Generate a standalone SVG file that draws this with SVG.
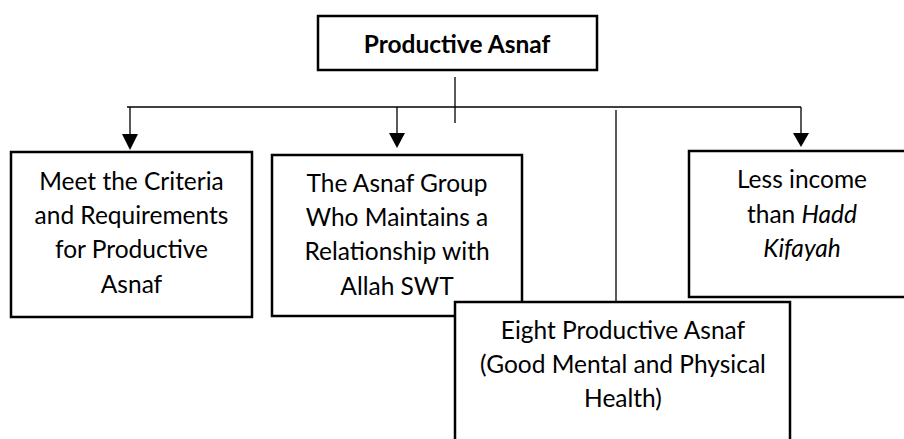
<svg xmlns="http://www.w3.org/2000/svg" width="904" height="439" viewBox="0 0 904 439">
<style>
.box{fill:#fff;stroke:#000;stroke-width:2.5}
.t{font-family:Lato,"Liberation Sans",sans-serif;font-size:24.5px;fill:#000;text-anchor:middle}
.b{font-weight:bold}
.con line{stroke:#000;stroke-width:1.3}
</style>
<rect width="904" height="439" fill="#fff"/>
<g id="top">
<rect class="box" x="318" y="16" width="279" height="54"/>
<text class="t b" x="457" y="53">Productive Asnaf</text>
</g>
<g id="n1">
<rect class="box" x="11" y="152" width="241" height="165"/>
<text class="t" x="131.5" y="190">Meet the Criteria</text>
<text class="t" x="131.5" y="224">and Requirements</text>
<text class="t" x="131.5" y="258">for Productive</text>
<text class="t" x="131.5" y="293">Asnaf</text>
</g>
<g id="n2">
<rect class="box" x="272" y="155" width="250" height="161"/>
<text class="t" x="397" y="192">The Asnaf Group</text>
<text class="t" x="397" y="226">Who Maintains a</text>
<text class="t" x="397" y="260">Relationship with</text>
<text class="t" x="397" y="295">Allah SWT</text>
</g>
<g id="n3">
<rect class="box" x="689" y="151" width="230" height="146"/>
<text class="t" x="802" y="188">Less income</text>
<text class="t" x="802" y="223">than <tspan font-style="italic">Hadd</tspan></text>
<text class="t" x="802" y="257" font-style="italic">Kifayah</text>
</g>
<g class="con" id="connectors">
<line x1="455" y1="77" x2="455" y2="123"/>
<line x1="127" y1="107" x2="801" y2="107"/>
<line x1="130" y1="107" x2="130" y2="136"/>
<path d="M122,134 L138,134 L130,150 Z"/>
<line x1="397" y1="107" x2="397" y2="134"/>
<path d="M389,133 L405,133 L397,148 Z"/>
<line x1="801" y1="107" x2="801" y2="134"/>
<path d="M793,133 L809,133 L801,147 Z"/>
<line x1="616" y1="110" x2="616" y2="302"/>
</g>
<g id="n4">
<rect class="box" x="455" y="302" width="335" height="150"/>
<text class="t" x="623" y="339">Eight Productive Asnaf</text>
<text class="t" x="623" y="373">(Good Mental and Physical</text>
<text class="t" x="623" y="407">Health)</text>
</g>
</svg>
